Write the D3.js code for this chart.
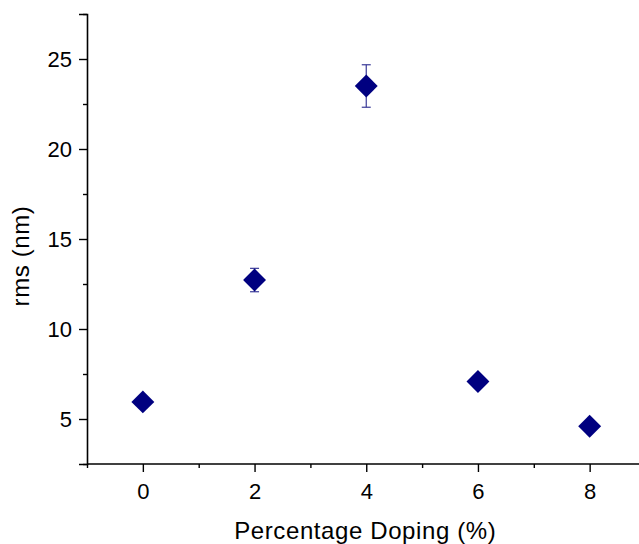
<!DOCTYPE html>
<html><head><meta charset="utf-8">
<script src="https://cdn.jsdelivr.net/npm/d3@7"></script>
<style>body{margin:0;background:#fff}svg{display:block}</style>
</head><body>
<script>
const doping = [0, 2, 4, 6, 8];
const rms = [5.95, 12.72, 23.5, 7.08, 4.6];
const rmsErr = [0, 0.65, 1.18, 0, 0];
const xMajorTicks = [0, 2, 4, 6, 8];
const xMinorTicks = [-1, 1, 3, 5, 7, 9];
const yMajorTicks = [5, 10, 15, 20, 25];
const yMinorTicks = [2.5, 7.5, 12.5, 17.5, 22.5, 27.5];

const W = 639, H = 544;
const svg = d3.select("body").append("svg").attr("width", W).attr("height", H);

const x = d3.scaleLinear().domain([-1, 9]).range([87, 645.5]);
const y = d3.scaleLinear().domain([2.5, 27.5]).range([464, 14]);
const font = "Liberation Sans, Arial, sans-serif";

const xAxis = svg.append("g").attr("transform", `translate(0,${y(2.5)})`)
  .call(d3.axisBottom(x).tickValues(xMajorTicks).tickSize(8).tickPadding(11).tickFormat(d3.format("d")));
const xMinor = svg.append("g").attr("transform", `translate(0,${y(2.5)})`)
  .call(d3.axisBottom(x).tickValues(xMinorTicks).tickSize(4).tickFormat(""));
const yAxis = svg.append("g").attr("transform", `translate(${x(-1)},0)`)
  .call(d3.axisLeft(y).tickValues(yMajorTicks).tickSize(8).tickPadding(7).tickFormat(d3.format("d")));
const yMinor = svg.append("g").attr("transform", `translate(${x(-1)},0)`)
  .call(d3.axisLeft(y).tickValues(yMinorTicks).tickSize(4).tickFormat(""));

[xAxis, xMinor, yAxis, yMinor].forEach(g => {
  g.select(".domain").attr("stroke", "#000").attr("stroke-width", 1.6);
  g.selectAll(".tick line").attr("stroke", "#000").attr("stroke-width", 1.4);
  g.selectAll(".tick text").attr("font-family", font).attr("font-size", 22).attr("fill", "#000");
});
xAxis.select(".domain").attr("d", `M${x(-1)},0H${W}`);
xMinor.select(".domain").remove();
yMinor.select(".domain").remove();

// axis titles
svg.append("text").attr("x", x(4) - 1).attr("y", 539).attr("text-anchor", "middle")
  .attr("font-family", font).attr("font-size", 24).attr("letter-spacing", 0.6).attr("fill", "#000")
  .text("Percentage Doping (%)");
svg.append("text").attr("transform", `translate(29,${y(15) + 17}) rotate(-90)`).attr("text-anchor", "middle")
  .attr("font-family", font).attr("font-size", 24).attr("letter-spacing", 0.6).attr("fill", "#000")
  .text("rms (nm)");

const data = doping.map((d, i) => ({x: d, y: rms[i], e: rmsErr[i]}));

// error bars
const eb = svg.append("g").attr("stroke", "#3a3a98").attr("stroke-width", 1.2).attr("fill", "none");
data.filter(d => d.e > 0).forEach(d => {
  const cx = x(d.x);
  eb.append("line").attr("x1", cx).attr("x2", cx).attr("y1", y(d.y + d.e)).attr("y2", y(d.y - d.e));
  eb.append("line").attr("x1", cx - 4.5).attr("x2", cx + 4.5).attr("y1", y(d.y + d.e)).attr("y2", y(d.y + d.e));
  eb.append("line").attr("x1", cx - 4.5).attr("x2", cx + 4.5).attr("y1", y(d.y - d.e)).attr("y2", y(d.y - d.e));
});

// diamonds
const sq = d3.symbol().type(d3.symbolSquare).size(16.2 * 16.2);
svg.append("g").selectAll("path").data(data).join("path")
  .attr("d", sq)
  .attr("transform", d => `translate(${x(d.x)},${y(d.y)}) rotate(45)`)
  .attr("fill", "#000080");
</script>
</body></html>
